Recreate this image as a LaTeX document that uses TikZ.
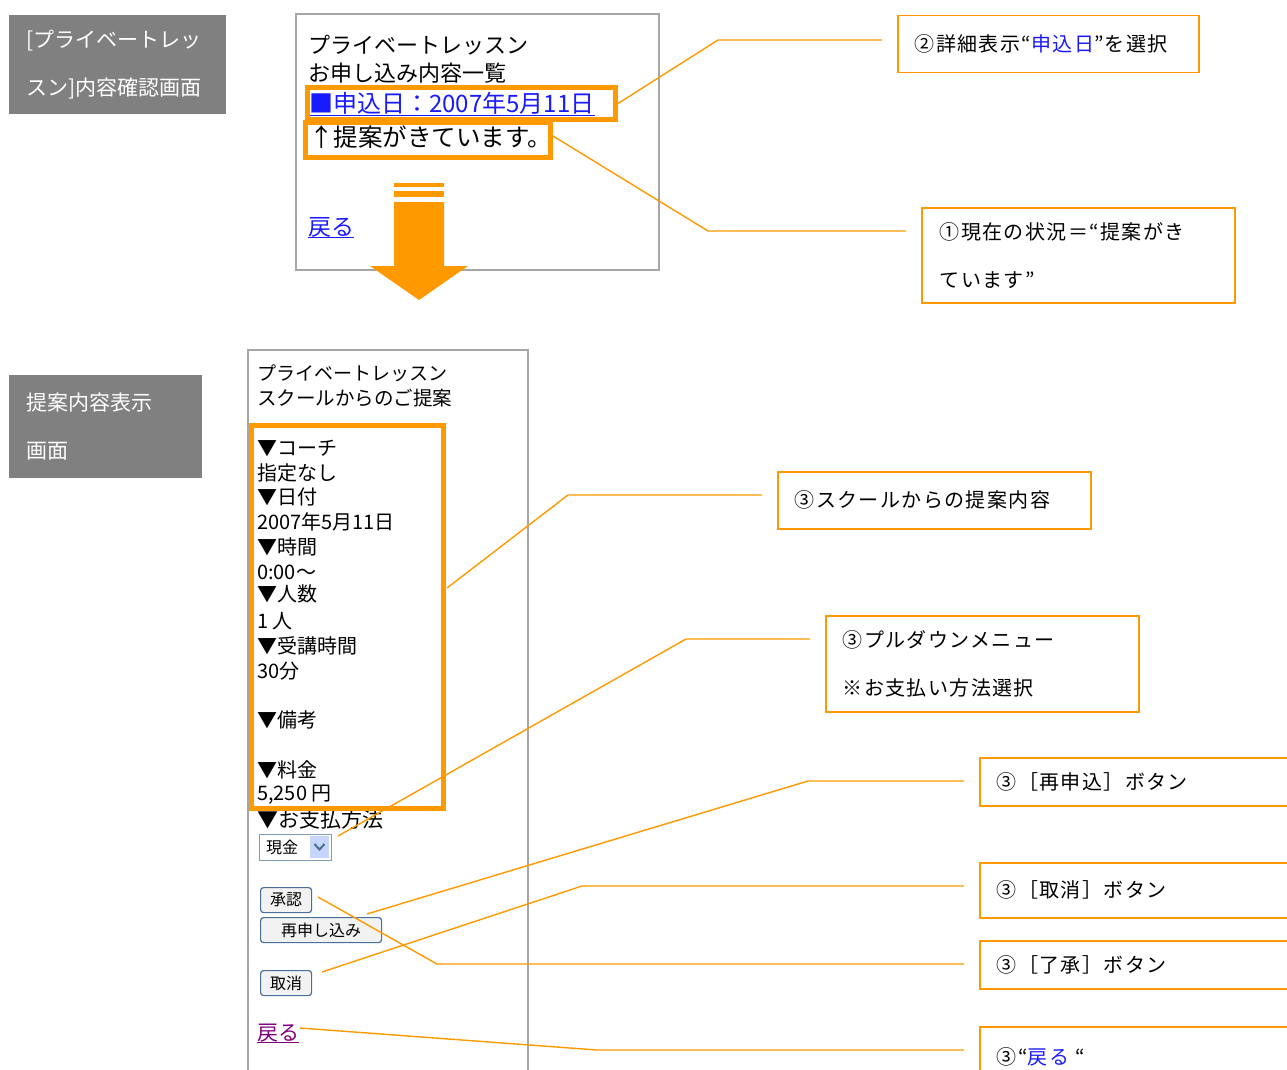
\documentclass[tikz,border=0pt]{standalone}
\usepackage{fontspec}
\setmainfont{Noto Sans CJK JP}
\newfontfamily\jpw[LetterSpace=7]{Noto Sans CJK JP}
\newcommand\fsz[2]{\fontsize{#1}{#2}\selectfont}
\definecolor{org}{HTML}{FF9900}
\definecolor{lbl}{HTML}{808080}
\definecolor{scrn}{HTML}{A6A6A6}
\definecolor{lnk}{HTML}{1A1AFF}
\definecolor{vis}{HTML}{800080}
\definecolor{btnb}{HTML}{4A6F9B}
\definecolor{ddbord}{HTML}{7F9DB9}
\definecolor{ddfill}{HTML}{C5D5FC}
\begin{document}
\begin{tikzpicture}[x=1pt,y=-1pt,
  tag/.style={fill=lbl, text=white, anchor=north west, align=left, inner xsep=17pt, inner ysep=0pt, font=\fsz{21}{48}},
  note/.style={draw=org, line width=1.5pt, fill=white, anchor=north west, align=left, inner xsep=17pt, inner ysep=0pt, font=\jpw\fsz{20}{48}},
  hl/.style={draw=org, line width=5pt, anchor=north west, inner sep=0pt},
  call/.style={draw=org, line width=1.4pt, shorten >=15pt},
  scr/.style={draw=scrn, line width=1.8pt},
  txt/.style={anchor=west, inner sep=0pt},
  btn/.style={draw=btnb, line width=1.2pt, rounded corners=3pt, fill=gray!10, anchor=north west, font=\fsz{16}{18}, inner sep=0pt}]
\useasboundingbox (0,0) rectangle (1287,1070);
\clip (0,0) rectangle (1287,1070);

% left labels
\node[tag, minimum width=217pt, minimum height=99pt, text width=183pt] (lab1) at (9,15) {[プライベートレッ\\スン]内容確認画面};
\node[tag, minimum width=193pt, minimum height=103pt, text width=159pt] (lab2) at (9,375) {提案内容表示\\画面};

% top screenshot
\draw[scr] (296,14) rectangle (659,270);
\node[txt, font=\fsz{22}{24}] (t1) at (308,45) {プライベートレッスン};
\node[txt, font=\fsz{22}{24}] (t2) at (308,73) {お申し込み内容一覧};
\node[txt, font=\fsz{24}{24}, text=lnk] (t3) at (309,103) {■申込日：2007年5月11日};
\draw[lnk, line width=1.2pt] ([yshift=-1pt]t3.south west) -- ([yshift=-1pt]t3.south east);
\node[txt, font=\fsz{24.5}{26}] (t4) at (309,137) {↑提案がきています。};
\node[txt, font=\fsz{23}{24}, text=lnk] (t5) at (308,227) {戻る};
\draw[lnk, line width=1.2pt] (t5.south west) -- (t5.south east);
\node[hl, minimum width=308pt, minimum height=32pt] (h1) at (305,85) {};
\node[hl, minimum width=245pt, minimum height=35pt] (h2) at (303,120) {};

% big arrow
\fill[org] (394,183) rectangle (444,187);
\fill[org] (394,191) rectangle (444,197);
\fill[org] (394,202) -- (444,202) -- (444,266) -- (468,266) -- (419,300) -- (370,266) -- (394,266) -- cycle;

% bottom screenshot
\draw[scr] (248,1085) -- (248,350) -- (528,350) -- (528,1085);
\node[txt, font=\fsz{19}{22}] (b0a) at (257,373) {プライベートレッスン};
\node[txt, font=\fsz{19.5}{22}] (b0b) at (257,398) {スクールからのご提案};
\begin{scope}[every node/.style={txt, font=\fsz{20}{22}}]
\node (l1) at (257,448) {▼コーチ};
\node (l2) at (257,473) {指定なし};
\node (l3) at (257,497) {▼日付};
\node (l4) at (257,522) {2007年5月11日};
\node (l5) at (257,547) {▼時間};
\node (l6) at (257,572) {0:00～};
\node (l7) at (257,594) {▼人数};
\node (l8) at (257,621) {1 人};
\node (l9) at (257,646) {▼受講時間};
\node (l10) at (257,671) {30分};
\node (l11) at (257,720) {▼備考};
\node (l12) at (257,770) {▼料金};
\node (l13) at (257,795) {5,250 円};
\node[font=\fsz{21}{22}] (l14) at (257,820) {▼お支払方法};
\end{scope}
\node[hl, minimum width=192pt, minimum height=383pt] (h3) at (249,423) {};

% dropdown
\node[draw=ddbord, line width=1pt, fill=white, anchor=north west, minimum width=72pt, minimum height=26pt, inner sep=0pt] (dd) at (259,834) {};
\node[txt, font=\fsz{16}{18}] (ddt) at (266,847) {現金};
\node[fill=ddfill, anchor=north west, minimum width=19pt, minimum height=22pt, inner sep=0pt] (ddbtn) at (310,836) {};
\draw[btnb, line width=2pt] (314.5,844) -- (319.5,849.5) -- (324.5,844);

% buttons
\node[btn, minimum width=51pt, minimum height=25pt] (b1) at (260,887) {承認};
\node[btn, minimum width=121pt, minimum height=25pt] (b2) at (260,917) {再申し込み};
\node[btn, minimum width=51pt, minimum height=25pt] (b3) at (260,970) {取消};
\node[txt, font=\fsz{21}{22}, text=vis] (bk) at (257,1033) {戻る};
\draw[vis, line width=1.2pt] (bk.south west) -- (bk.south east);

% notes
\node[note, minimum width=301pt, minimum height=57pt, text width=267pt] (n2) at (897,15) {②詳細表示“\textcolor{lnk}{申込日}”を選択};
\node[note, minimum width=313pt, minimum height=95pt, text width=277pt, inner xsep=18pt] (n1) at (921,207) {①現在の状況＝“提案がき\\ています”};
\node[note, minimum width=313pt, minimum height=57pt, text width=279pt] (n3) at (777,471) {③スクールからの提案内容};
\node[note, minimum width=313pt, minimum height=96pt, text width=279pt] (n4) at (825,615) {③プルダウンメニュー\\※お支払い方法選択};
\node[note, minimum width=330pt, minimum height=48pt, text width=296pt] (n5) at (979,757) {③［再申込］ボタン};
\node[note, minimum width=330pt, minimum height=55pt, text width=296pt] (n6) at (979,862) {③［取消］ボタン};
\node[note, minimum width=330pt, minimum height=48pt, text width=296pt] (n7) at (979,940) {③［了承］ボタン};
\node[note, minimum width=330pt, minimum height=60pt, text width=296pt] (n8) at (979,1026) {③“\textcolor{lnk}{戻る} “};

% connector coordinates
\coordinate (k2) at (718,40);
\coordinate (k1) at (708,231);
\coordinate (s3) at (447,588);  \coordinate (k3) at (568,495);
\coordinate (s4) at (338,836);  \coordinate (k4) at (686,639);
\coordinate (s5) at (367,914);  \coordinate (k5) at (808,781);
\coordinate (s6) at (322,972);  \coordinate (k6) at (582,886);
\coordinate (s7) at (318,897);  \coordinate (k7) at (437,964);
\coordinate (s8) at (300,1028); \coordinate (k8) at (597,1050);

\draw[call] (h1.east) -- (k2) -- (k2 -| n2.west);
\draw[call] ([yshift=4pt]h2.east) -- (k1) -- (k1 -| n1.west);
\draw[call] (s3) -- (k3) -- (k3 -| n3.west);
\draw[call] (s4) -- (k4) -- (k4 -| n4.west);
\draw[call] (s5) -- (k5) -- (k5 -| n5.west);
\draw[call] (s6) -- (k6) -- (k6 -| n6.west);
\draw[call] (s7) -- (k7) -- (k7 -| n7.west);
\draw[call] (s8) -- (k8) -- (k8 -| n8.west);
\end{tikzpicture}
\end{document}
